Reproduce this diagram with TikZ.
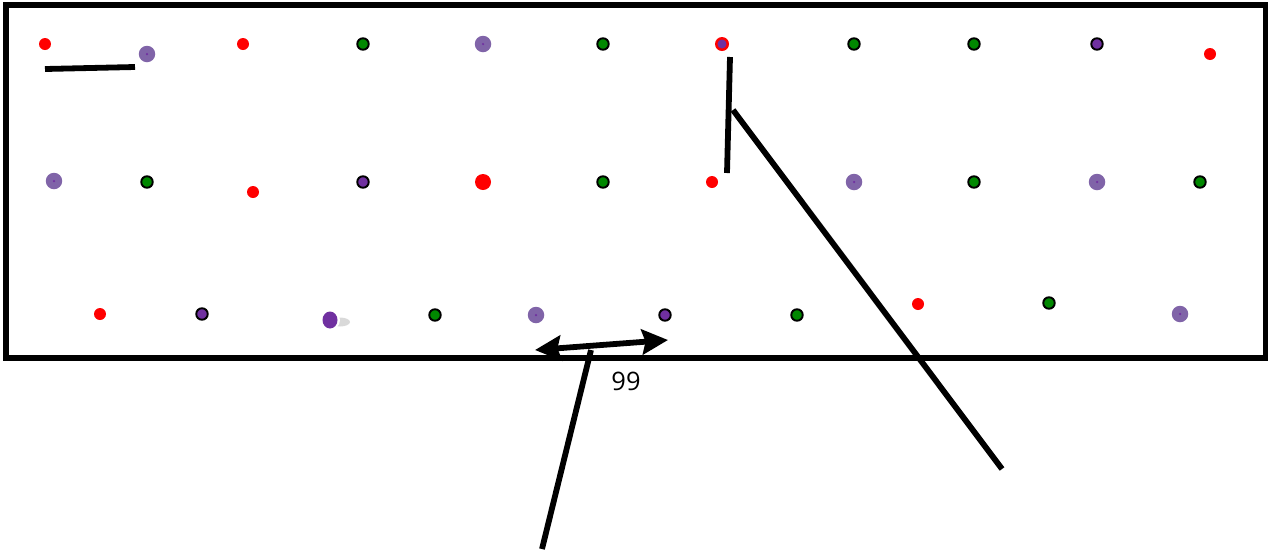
\documentclass[tikz,border=0pt]{standalone}
\usepackage{fontspec}
\setmainfont{Open Sans}
\usetikzlibrary{arrows.meta,calc}

\definecolor{dotred}{RGB}{255,0,0}
\definecolor{dotgreen}{RGB}{0,136,0}
\definecolor{dotpurple}{RGB}{112,48,160}
\definecolor{dotlilac}{RGB}{128,100,168}

\begin{document}
\begin{tikzpicture}[
  x=0.02cm, y=-0.02cm,
  font=\fontsize{14.5}{16}\selectfont,
  reddot/.style={circle, fill=dotred, inner sep=0pt, minimum size=0.24cm},
  bigred/.style={circle, fill=dotred, inner sep=0pt, minimum size=0.32cm},
  greendot/.style={circle, draw=black, line width=1.1pt, fill=dotgreen, inner sep=0pt, minimum size=0.23cm},
  purpledot/.style={circle, draw=black, line width=1.1pt, fill=dotpurple, inner sep=0pt, minimum size=0.23cm},
  lilacdot/.style={circle, fill=dotlilac, inner sep=0pt, minimum size=0.33cm,
    path picture={\fill[dotpurple] (path picture bounding box.center) circle (0.025cm);}},
  mixdot/.style={circle, draw=dotred, line width=1.4pt, fill=dotpurple, inner sep=0pt, minimum size=0.23cm},
  stroke/.style={line width=3.3pt},
  dblarrow/.style={line width=3.3pt, {Stealth[length=0.52cm,width=0.5cm,inset=0.07cm]}-{Stealth[length=0.52cm,width=0.5cm,inset=0.07cm]}}
]

\useasboundingbox (0,0) rectangle (1268,552);

% Top row
\node[reddot] (a1) at (45,44) {};
\node[lilacdot] (a2) at (147,54) {};
\node[reddot] (a3) at (243,44) {};
\node[greendot] (a4) at (363,44) {};
\node[lilacdot] (a5) at (483,44) {};
\node[greendot] (a6) at (603,44) {};
\node[mixdot] (a7) at (722,44) {};
\node[greendot] (a8) at (854,44) {};
\node[greendot] (a9) at (974,44) {};
\node[purpledot] (a10) at (1097,44) {};
\node[reddot] (a11) at (1210,54) {};

% Middle row
\node[lilacdot] (b1) at (54,181) {};
\node[greendot] (b2) at (147,182) {};
\node[reddot] (b3) at (253,192) {};
\node[purpledot] (b4) at (363,182) {};
\node[bigred] (b5) at (483,182) {};
\node[greendot] (b6) at (603,182) {};
\node[reddot] (b7) at (712,182) {};
\node[lilacdot] (b8) at (854,182) {};
\node[greendot] (b9) at (974,182) {};
\node[lilacdot] (b10) at (1097,182) {};
\node[greendot] (b11) at (1200,182) {};

% Bottom row
\node[reddot] (c1) at (100,314) {};
\node[purpledot] (c2) at (202,314) {};
\fill[gray!30] (340,322) ellipse (0.2cm and 0.09cm);
\node[circle, fill=white, inner sep=0pt, minimum size=0.4cm] (c3) at (330,320) {};
\fill[dotpurple] (c3.center) ellipse (0.15cm and 0.17cm);
\node[greendot] (c4) at (435,315) {};
\node[lilacdot] (c5) at (536,315) {};
\node[purpledot] (c6) at (665,315) {};
\node[greendot] (c7) at (797,315) {};
\node[reddot] (c8) at (918,304) {};
\node[greendot] (c9) at (1049,303) {};
\node[lilacdot] (c10) at (1180,314) {};

% Free line ends
\coordinate (s1) at (45,69);
\coordinate (s2) at (135,67);
\coordinate (t1) at (730,57);
\coordinate (t2) at (727,173);
\coordinate (u1) at (733,110);
\coordinate (u2) at (1002,469);
\coordinate (w1) at (591,350);
\coordinate (w2) at (542,549);
\coordinate (ar) at (535,350);
\coordinate (al) at (668,340);

% Strokes
\draw[stroke] (s1) -- (s2);
\draw[stroke] (t1) -- (t2);
\draw[stroke] (u1) -- (u2);

% Frame
\node[draw, line width=3.3pt, minimum width=25.2cm, minimum height=7.06cm, inner sep=0pt] (frame) at (636,181.5) {};

% Measure
\draw[stroke] (w1) -- (w2);
\draw[dblarrow] (ar) -- (al);
\node (num) at (626,381) {99};

\end{tikzpicture}
\end{document}
